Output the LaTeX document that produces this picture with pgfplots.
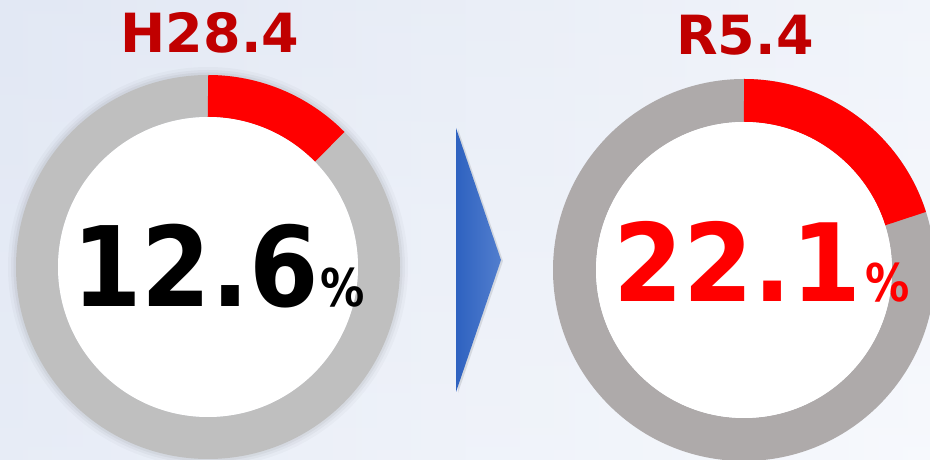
\documentclass[border=0pt]{standalone}
\usepackage{pgfplots}
\pgfplotsset{compat=1.18}
\usepackage{pgfplotstable}
\usepackage{fontspec}
\setmainfont{DejaVu Sans}
\definecolor{bgA}{RGB}{226,232,244}
\definecolor{bgB}{RGB}{247,249,253}
\definecolor{ringA}{RGB}{191,191,191}
\definecolor{ringB}{RGB}{174,170,170}
\definecolor{segred}{RGB}{255,0,0}
\definecolor{titlered}{RGB}{192,0,0}
\definecolor{arrowA}{RGB}{46,98,192}
\definecolor{arrowB}{RGB}{82,126,206}
\pgfplotstableread{
period share drawn cx cy rmid width
H28.4 12.6 12.6 208 193 171 42
R5.4 22.1 20.1 744 190 169.5 43
}\donuts
\begin{document}
\begin{tikzpicture}
\pgfplotstablegetelem{0}{drawn}\of\donuts \let\dA\pgfplotsretval
\pgfplotstablegetelem{1}{drawn}\of\donuts \let\dB\pgfplotsretval
\pgfplotstablegetelem{0}{share}\of\donuts \let\sA\pgfplotsretval
\pgfplotstablegetelem{1}{share}\of\donuts \let\sB\pgfplotsretval
\begin{axis}[x=1pt, y=1pt, xmin=0, xmax=930, ymin=0, ymax=460,
  hide axis, disabledatascaling, scale only axis, clip=true]
% background
\shade[left color=bgA, right color=bgB] (axis cs:0,0) rectangle (axis cs:930,460);
\shade[top color=bgA, bottom color=bgB, opacity=0.25] (axis cs:0,0) rectangle (axis cs:930,460);
% soft shadow for left donut
\fill[black, opacity=0.025] (axis cs:208,193) circle[radius=200pt];
\fill[black, opacity=0.03] (axis cs:208,193) circle[radius=197pt];
\fill[black, opacity=0.04] (axis cs:208,193) circle[radius=194.5pt];
% left donut
\draw[ringA, line width=42pt] (axis cs:208,193) circle[radius=171pt];
\draw[segred, line width=42pt] (axis cs:208,193) ++(90:171pt) arc[start angle=90, end angle={90-3.6*\dA}, radius=171pt];
\fill[white] (axis cs:208,193) circle[radius=150pt];
% right donut
\draw[ringB, line width=43pt] (axis cs:744,190) circle[radius=169.5pt];
\draw[segred, line width=43pt] (axis cs:744,190) ++(90:169.5pt) arc[start angle=90, end angle={90-3.6*\dB}, radius=169.5pt];
\fill[white] (axis cs:744,190) circle[radius=148pt];
% arrow
\fill[black, opacity=0.10] (axis cs:458,331) -- (axis cs:458,67) -- (axis cs:503,199) -- cycle;
\shade[left color=arrowA, right color=arrowB] (axis cs:456,332) -- (axis cs:456,68) -- (axis cs:501,200) -- cycle;
% titles
\node[anchor=base, inner sep=0pt, text=titlered, font=\fontsize{54}{60}\selectfont\bfseries] at (axis cs:210,407) {H28.4};
\node[anchor=base, inner sep=0pt, text=titlered, font=\fontsize{54}{60}\selectfont\bfseries] at (axis cs:745,405) {R5.4};
% values
\node[anchor=base west, inner sep=0pt, text=black, font=\fontsize{111}{120}\selectfont\bfseries, xscale=0.9] at (axis cs:72,153) {\sA};
\node[anchor=base west, inner sep=0pt, text=black, font=\fontsize{52}{60}\selectfont\bfseries, xscale=0.85] at (axis cs:320,153) {\%};
\node[anchor=base west, inner sep=0pt, text=segred, font=\fontsize{108}{120}\selectfont\bfseries, xscale=0.93] at (axis cs:613,158) {\sB};
\node[anchor=base west, inner sep=0pt, text=segred, font=\fontsize{52}{60}\selectfont\bfseries, xscale=0.85] at (axis cs:865,158) {\%};
\end{axis}
\end{tikzpicture}
\end{document}
